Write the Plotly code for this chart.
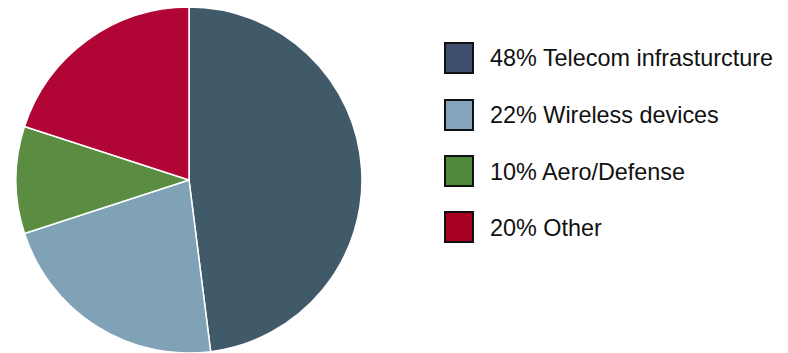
import plotly.graph_objects as go

# Revenue mix by end market
labels = ["Telecom infrasturcture", "Wireless devices", "Aero/Defense", "Other"]
shares = [48, 22, 10, 20]
slice_colors = ["#415a6a", "#80a2b7", "#5a8c41", "#b00535"]
key_colors = ["#3d4d6d", "#84a4bd", "#4f873b", "#a80020"]

W, H = 788, 353

fig = go.Figure(
    go.Pie(
        labels=labels,
        values=shares,
        sort=False,
        direction="clockwise",
        rotation=0,
        textinfo="none",
        hoverinfo="label+percent",
        marker=dict(colors=slice_colors, line=dict(color="white", width=1.5)),
        domain=dict(x=[16 / W, 362 / W], y=[0, 0.98]),
        showlegend=False,
    )
)

# Custom key: outlined swatch plus "NN% label" text per slice
row_top = [43, 100, 156, 212]
shapes, annotations = [], []
for i, (lab, val, col) in enumerate(zip(labels, shares, key_colors)):
    y0 = row_top[i]
    y1 = y0 + 30
    shapes.append(dict(
        type="rect", xref="paper", yref="paper",
        x0=445 / W, x1=473 / W, y0=1 - y1 / H, y1=1 - y0 / H,
        fillcolor=col, line=dict(color="#111111", width=2),
    ))
    annotations.append(dict(
        xref="paper", yref="paper", x=488 / W, y=1 - (y0 + 15.5) / H,
        xanchor="left", yanchor="middle", showarrow=False,
        text=f"{val}% {lab}",
        font=dict(family="Liberation Sans, Arial, sans-serif", size=23.4, color="#111111"),
    ))

fig.update_layout(
    width=W, height=H,
    margin=dict(l=0, r=0, t=0, b=0),
    paper_bgcolor="white", plot_bgcolor="white",
    shapes=shapes, annotations=annotations,
)

fig.write_html("out.html")
